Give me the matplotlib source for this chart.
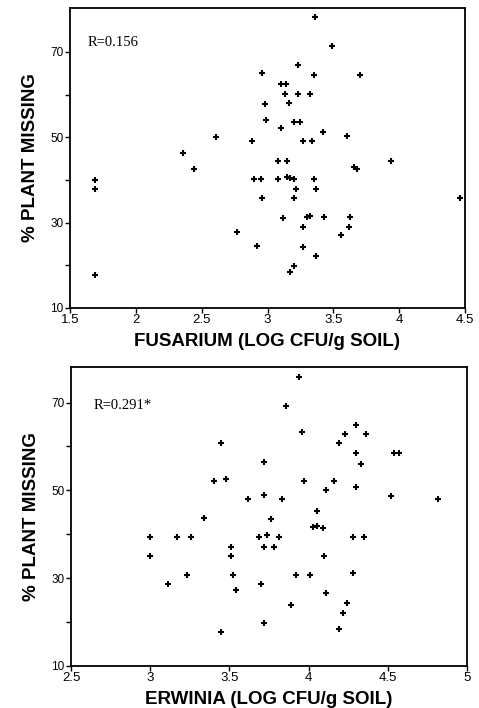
import matplotlib
matplotlib.use("Agg")
import matplotlib.pyplot as plt

# Fusarium panel
fus_x = [3.36, 3.49, 3.23, 2.96, 3.35, 3.70, 3.10, 3.14, 3.13, 3.23, 3.32, 2.98, 3.16,
         2.99, 3.20, 3.25, 3.10, 3.42, 3.60, 2.61, 2.88, 3.27, 3.34, 2.36, 3.08, 3.15,
         3.94, 2.44, 3.66, 3.68, 1.69, 1.69, 1.69, 2.90, 2.95, 3.08, 3.15, 3.17, 3.20,
         3.35, 3.22, 3.37, 2.96, 3.20, 4.46, 3.12, 3.30, 3.32, 3.43, 3.63, 2.77, 3.27,
         3.62, 3.56, 2.92, 3.27, 3.37, 3.20, 3.17]
fus_y = [78.1, 71.5, 66.9, 65.1, 64.7, 64.7, 62.5, 62.5, 60.2, 60.2, 60.2, 57.7, 58.0,
         54.1, 53.5, 53.5, 52.1, 51.3, 50.2, 50.1, 49.2, 49.2, 49.2, 46.4, 44.5, 44.5,
         44.5, 42.5, 43.0, 42.6, 40.0, 37.8, 17.7, 40.2, 40.2, 40.2, 40.8, 40.4, 40.2,
         40.2, 37.9, 37.9, 35.7, 35.7, 35.8, 31.2, 31.3, 31.5, 31.3, 31.3, 27.8, 29.0,
         29.0, 27.1, 24.5, 24.3, 22.3, 19.9, 18.5]

# Erwinia panel
erw_x = [3.94, 3.86, 4.30, 3.96, 4.23, 4.36, 3.45, 4.19, 4.30, 4.54, 4.57, 4.33, 3.72,
         3.40, 3.48, 3.97, 4.16, 4.30, 4.11, 3.72, 3.62, 3.83, 4.52, 4.82, 4.05, 3.34,
         3.76, 4.03, 4.05, 4.09, 3.00, 3.00, 3.17, 3.26, 3.69, 3.74, 3.81, 4.28, 4.35,
         3.51, 3.51, 3.72, 3.78, 4.10, 3.23, 3.52, 3.92, 4.01, 4.28, 3.11, 3.70, 3.54,
         4.11, 3.89, 4.24, 4.22, 3.72, 4.19, 3.45]
erw_y = [75.8, 69.3, 64.9, 63.2, 62.9, 62.9, 60.7, 60.7, 58.6, 58.5, 58.5, 56.1, 56.5,
         52.2, 52.5, 52.2, 52.2, 50.8, 50.0, 48.9, 48.0, 48.0, 48.7, 48.0, 45.4, 43.6,
         43.5, 41.7, 41.8, 41.5, 39.3, 35.0, 39.3, 39.3, 39.4, 39.8, 39.3, 39.3, 39.3,
         37.2, 35.0, 37.2, 37.2, 35.0, 30.7, 30.7, 30.7, 30.7, 31.1, 28.6, 28.6, 27.4,
         26.7, 24.0, 24.3, 22.1, 19.9, 18.4, 17.8]

fus_xticks = [1.5, 2, 2.5, 3, 3.5, 4, 4.5]
fus_xticklabels = ["1.5", "2", "2.5", "3", "3.5", "4", "4.5"]
erw_xticks = [2.5, 3, 3.5, 4, 4.5, 5]
erw_xticklabels = ["2.5", "3", "3.5", "4", "4.5", "5"]
yticks = [10, 20, 30, 40, 50, 60, 70]
yticklabels = ["10", "", "30", "", "50", "", "70"]

fig = plt.figure(figsize=(4.79, 7.08), dpi=100)
ax1 = fig.add_axes([70 / 479, 1 - 308 / 708, 395 / 479, 300 / 708])
ax2 = fig.add_axes([71 / 479, 1 - 666 / 708, 396 / 479, 299 / 708])

panels = [
    (ax1, fus_x, fus_y, (1.5, 4.5), (10, 80.3), fus_xticks, fus_xticklabels,
     "FUSARIUM (LOG CFU/g SOIL)", "R=0.156", (1.63, 72.1)),
    (ax2, erw_x, erw_y, (2.5, 5.0), (10, 78.1), erw_xticks, erw_xticklabels,
     "ERWINIA (LOG CFU/g SOIL)", "R=0.291*", (2.64, 69.3)),
]

for ax, xs, ys, xlim, ylim, xt, xtl, xlab, rtxt, rpos in panels:
    ax.plot(xs, ys, linestyle="none", marker="+", color="black",
            markersize=4.6, markeredgewidth=1.5)
    ax.set_xlim(*xlim)
    ax.set_ylim(*ylim)
    ax.set_xticks(xt)
    ax.set_xticklabels(xtl, fontsize=9.5, family="Liberation Sans")
    ax.set_yticks(yticks)
    ax.set_yticklabels(yticklabels, fontsize=8.5, family="Liberation Sans")
    ax.tick_params(axis="both", direction="out", length=3.5, width=1.0, pad=1, color="black")
    ax.tick_params(axis="x", pad=0.5)
    for sp in ax.spines.values():
        sp.set_linewidth(1.3)
    ax.set_xlabel(xlab, fontsize=13.5, fontweight="bold", family="Liberation Sans", labelpad=5)
    ax.set_ylabel("% PLANT MISSING", fontsize=13.5, fontweight="bold",
                  family="Liberation Sans", labelpad=8)
    ax.text(rpos[0], rpos[1], rtxt, fontsize=10.5, family="Liberation Serif",
            va="center", ha="left")

fig.savefig("out.png", dpi=100)
